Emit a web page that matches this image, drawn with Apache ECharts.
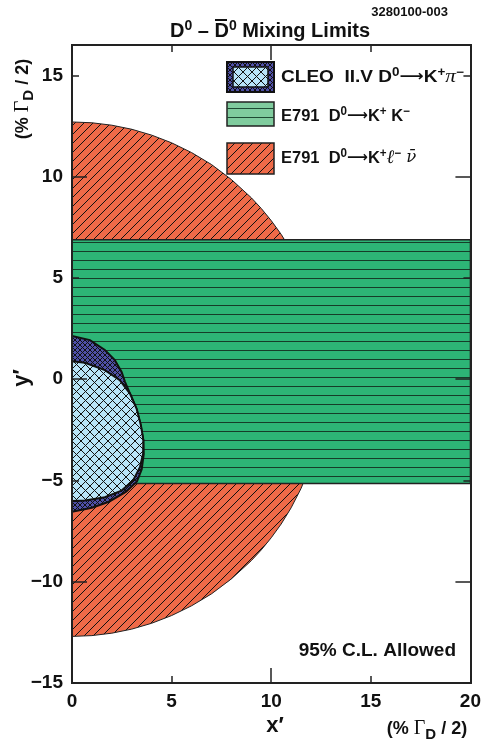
<!DOCTYPE html>
<html><head><meta charset="utf-8">
<script src="https://cdn.jsdelivr.net/npm/echarts@6/dist/echarts.min.js"></script>
<style>html,body{margin:0;padding:0;background:#fff}#c{width:484px;height:742px}</style>
</head><body><div id="c"></div>
<script>
// ---- data ----
const xTicks = [0, 5, 10, 15, 20];
const xLongTicks = [10];
const yTicks = [-15, -10, -5, 0, 5, 10, 15];
const yLongTicks = [-10, 0, 10];
const xRange = [0, 20];
const yRange = [-15, 16.5];

// E791 D0 -> K+ l- nubar : semicircular allowed region
const redRegion = [
  [0, 12.7], [1, 12.66], [2, 12.54], [3, 12.34], [4, 12.05], [5, 11.67], [6, 11.19],
  [7, 10.6], [8, 9.86], [9, 8.96], [9.5, 8.43], [10, 7.83], [10.5, 7.15], [11, 6.35],
  [11.5, 5.39], [12, 4.16], [12.3, 3.16], [12.5, 2.24], [12.65, 1.13], [12.7, 0],
  [12.65, -1.13], [12.5, -2.24], [12.3, -3.16], [12, -4.16], [11.5, -5.39], [11, -6.35],
  [10.5, -7.15], [10, -7.83], [9.5, -8.43], [9, -8.96], [8, -9.86], [7, -10.6],
  [6, -11.19], [5, -11.67], [4, -12.05], [3, -12.34], [2, -12.54], [1, -12.66], [0, -12.7]
];
// E791 D0 -> K+ K- : horizontal band
const greenRegion = [[0, -5.15], [20, -5.15], [20, 6.88], [0, 6.88]];
// CLEO II.V D0 -> K+ pi- : outer (dark) and inner (light) contours
const cleoOuter = [
  [0, 2.13], [0.9, 1.93], [1.65, 1.44], [2.15, 0.94], [2.49, 0.36], [2.66, -0.13],
  [2.95, -0.8], [3.25, -1.5], [3.45, -2.3], [3.58, -3.0], [3.6, -3.7], [3.5, -4.45],
  [3.26, -5.05], [2.72, -5.55], [1.85, -6.05], [1.0, -6.35], [0, -6.55]
];
const cleoInner = [
  [0, 0.89], [0.65, 0.81], [1.65, 0.45], [2.4, -0.05], [2.91, -0.71], [3.24, -1.45],
  [3.46, -2.28], [3.58, -3.0], [3.57, -3.68], [3.41, -4.34], [3.07, -5.0], [2.49, -5.5],
  [1.65, -5.83], [0.65, -5.99], [0, -6.02]
];

// ---- patterns ----
function pat(size, bg, draw) {
  const c = document.createElement('canvas');
  c.width = size; c.height = size;
  const g = c.getContext('2d');
  g.fillStyle = bg; g.fillRect(0, 0, size, size);
  g.strokeStyle = '#111'; g.lineWidth = 1;
  g.beginPath(); draw(g, size); g.stroke();
  return { image: c, repeat: 'repeat' };
}
function up(g, s) { g.moveTo(0, s); g.lineTo(s, 0); g.moveTo(-1, 1); g.lineTo(1, -1); g.moveTo(s - 1, s + 1); g.lineTo(s + 1, s - 1); }
function down(g, s) { g.moveTo(0, 0); g.lineTo(s, s); g.moveTo(-1, s - 1); g.lineTo(1, s + 1); g.moveTo(s - 1, -1); g.lineTo(s + 1, 1); }
const redPat = pat(9, '#EF6A48', up);
const greenPat = (function () {
  const c = document.createElement('canvas'); c.width = 9; c.height = 9;
  const g = c.getContext('2d'); g.fillStyle = '#2DB576'; g.fillRect(0, 0, 9, 9);
  g.fillStyle = '#163d29'; g.fillRect(0, 8, 9, 1);
  return { image: c, repeat: 'repeat' };
})();
const lightPat = pat(9, '#B8E4F8', (g, s) => { up(g, s); down(g, s); });
const darkPat = pat(5, '#4F50A8', (g, s) => { up(g, s); down(g, s); });

function poly(name, pts, fill, stroke, lw, z) {
  return {
    type: 'custom', name, coordinateSystem: 'cartesian2d', xAxisIndex: 0, yAxisIndex: 0,
    z, silent: true, animation: false, data: pts, encode: { x: 0, y: 1 },
    renderItem: (params, api) => {
      if (params.dataIndex !== 0) return null;
      return { type: 'polygon', shape: { points: pts.map(p => api.coord(p)) },
        style: { fill, stroke, lineWidth: lw } };
    }
  };
}

const AX = '#222';
const FONT = 'Liberation Sans, Arial, sans-serif';
function fmt(v) { return v < 0 ? '\u2212' + (-v) : '' + v; }
function xAx(pos, ticks, len, labels) {
  return { type: 'value', min: xRange[0], max: xRange[1], position: pos, z: 10,
    axisLine: { show: true, onZero: false, lineStyle: { color: AX, width: 2 } },
    axisTick: { show: true, inside: true, length: len, customValues: ticks, lineStyle: { color: AX, width: 1.5 } },
    axisLabel: labels ? { show: true, customValues: ticks, margin: 9, formatter: fmt, fontFamily: FONT, fontWeight: 'bold', fontSize: 19, color: '#111' } : { show: false },
    splitLine: { show: false } };
}
function yAx(pos, ticks, len, labels) {
  return { type: 'value', min: yRange[0], max: yRange[1], position: pos, z: 10,
    axisLine: { show: true, onZero: false, lineStyle: { color: AX, width: 2 } },
    axisTick: { show: true, inside: true, length: len, customValues: ticks, lineStyle: { color: AX, width: 1.5 } },
    axisLabel: labels ? { show: true, customValues: ticks, margin: 9, formatter: fmt, fontFamily: FONT, fontWeight: 'bold', fontSize: 19, color: '#111' } : { show: false },
    splitLine: { show: false } };
}

const rich = {
  b: { fontFamily: FONT, fontWeight: 'bold', fontSize: 17, lineHeight: 20, color: '#111' },
  B: { fontFamily: FONT, fontWeight: 'bold', fontSize: 18, lineHeight: 20, color: '#111' },
  s: { fontFamily: FONT, fontWeight: 'bold', fontSize: 12, lineHeight: 12, verticalAlign: 'top', color: '#111' },
  a: { fontFamily: 'DejaVu Sans, sans-serif', fontWeight: 'bold', fontSize: 15, lineHeight: 20, color: '#111' },
  g: { fontFamily: 'Liberation Serif, DejaVu Serif, serif', fontStyle: 'italic', fontSize: 19, lineHeight: 20, color: '#111' },
  n: { fontFamily: 'DejaVu Serif, serif', fontStyle: 'italic', fontSize: 17, lineHeight: 20, color: '#111' },
  G: { fontFamily: 'Liberation Serif, DejaVu Serif, serif', fontSize: 20, lineHeight: 20, color: '#111' },
  d: { fontFamily: FONT, fontWeight: 'bold', fontSize: 15, lineHeight: 27, verticalAlign: 'bottom', color: '#111' },
  T: { fontFamily: FONT, fontWeight: 'bold', fontSize: 20, lineHeight: 24, color: '#111' },
  Ts: { fontFamily: FONT, fontWeight: 'bold', fontSize: 14, lineHeight: 14, verticalAlign: 'top', color: '#111' }
};
function txt(x, y, text, opts) {
  opts = opts || {};
  return { type: 'text', x, y, z: 50, rotation: opts.rot || 0, scaleX: opts.sx || 1, silent: true,
    style: { text, rich, align: opts.align || 'left', verticalAlign: 'middle', fill: '#111',
      font: opts.font || ('bold 17px ' + FONT) } };
}

const graphic = [
  // title
  txt(270, 31, '{T|D}{Ts|0}{T| \u2013 D}{Ts|0}{T| Mixing Limits}', { align: 'center' }),
  { type: 'line', z: 50, shape: { x1: 215, y1: 20, x2: 227, y2: 20 }, style: { stroke: '#111', lineWidth: 2 } },
  txt(448, 12, '3280100-003', { align: 'right', font: 'bold 13px ' + FONT }),
  // legend boxes
  { type: 'rect', z: 50, shape: { x: 227, y: 62, width: 47, height: 30 }, style: { fill: darkPat, stroke: '#111', lineWidth: 2 } },
  { type: 'rect', z: 51, shape: { x: 233, y: 67, width: 35, height: 20 }, style: { fill: lightPat, stroke: '#111', lineWidth: 1.5 } },
  { type: 'rect', z: 50, shape: { x: 227, y: 102, width: 47, height: 24 }, style: { fill: '#80CC9E', stroke: '#222', lineWidth: 1.5 } },
  { type: 'line', z: 51, shape: { x1: 227, y1: 108.5, x2: 274, y2: 108.5 }, style: { stroke: '#1f4a33', lineWidth: 1 } },
  { type: 'line', z: 51, shape: { x1: 227, y1: 117.5, x2: 274, y2: 117.5 }, style: { stroke: '#1f4a33', lineWidth: 1 } },
  { type: 'rect', z: 50, shape: { x: 227, y: 143, width: 47, height: 31 }, style: { fill: redPat, stroke: '#222', lineWidth: 1.5 } },
  // legend texts
  txt(281, 77, '{b|CLEO  II.V D}{s|0}{a|\u27F6}{b|K}{s|+}{g|\u03C0}{s|\u2212}', { sx: 1.12 }),
  txt(281, 116, '{b|E791  D}{s|0}{a|\u27F6}{b|K}{s|+}{b| K}{s|\u2212}', { sx: 0.97 }),
  txt(281, 158, '{b|E791  D}{s|0}{a|\u27F6}{b|K}{s|+}{g|\u2113}{s|\u2212}{n| \u03BD\u0304}', { sx: 0.97 }),
  // annotation
  txt(456, 651, '95% C.L. Allowed', { align: 'right', font: 'bold 19px ' + FONT }),
  // axis names
  txt(275, 726, 'x\u2032', { align: 'center', font: 'bold 22px ' + FONT }),
  txt(427, 729, '{B|(% }{G|\u0393}{d|D}{B| / 2)}', { align: 'center' }),
  txt(22, 378, 'y\u2032', { align: 'center', rot: Math.PI / 2, font: 'bold 22px ' + FONT }),
  txt(23, 99, '{B|(% }{G|\u0393}{d|D}{B| / 2)}', { align: 'center', rot: Math.PI / 2 })
];

const chart = echarts.init(document.getElementById('c'), null, { renderer: 'canvas' });
chart.setOption({
  animation: false,
  backgroundColor: '#fff',
  grid: { left: 72, right: 13, top: 45, bottom: 59, containLabel: false },
  xAxis: [xAx('bottom', xTicks, 7, true), xAx('bottom', xLongTicks, 15, false), xAx('top', xTicks, 7, false), xAx('top', xLongTicks, 15, false)],
  yAxis: [yAx('left', yTicks, 7, true), yAx('left', yLongTicks, 15, false), yAx('right', yTicks, 7, false), yAx('right', yLongTicks, 15, false)],
  series: [
    poly('E791 D0→K+l-nu', redRegion, redPat, '#222', 1, 2),
    poly('E791 D0→K+K-', greenRegion, greenPat, '#222', 1.5, 3),
    poly('CLEO outer', cleoOuter, darkPat, '#111', 2, 4),
    poly('CLEO inner', cleoInner, lightPat, '#111', 2, 5)
  ],
  graphic
});
</script>
</body></html>
